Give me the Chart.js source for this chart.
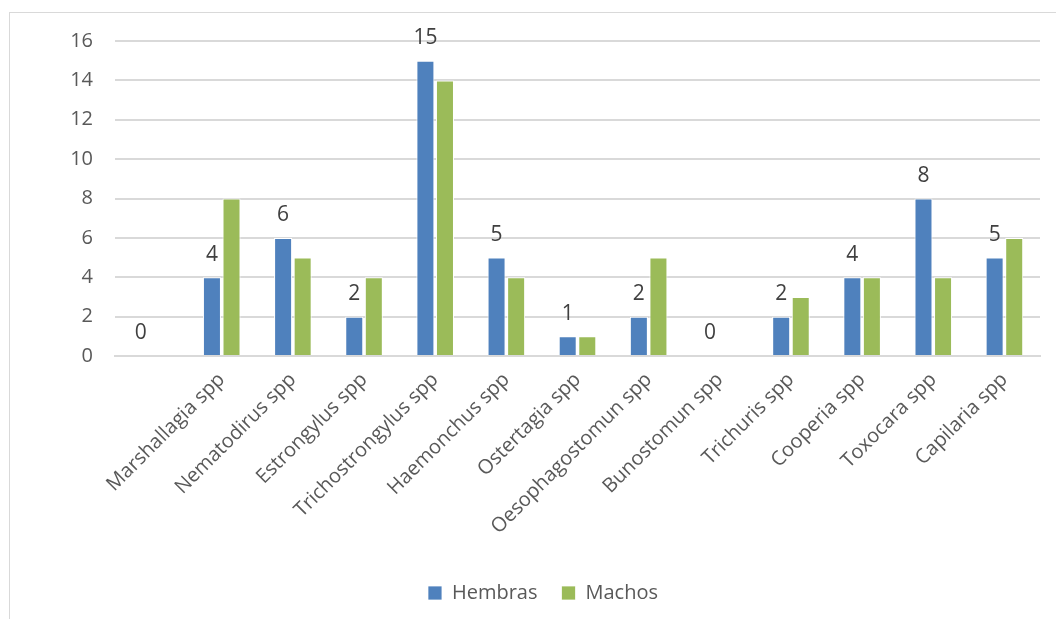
<!DOCTYPE html>
<html>
<head>
<meta charset="utf-8">
<script src="https://cdn.jsdelivr.net/npm/chart.js@4/dist/chart.umd.min.js"></script>
<style>
  html, body { margin: 0; padding: 0; background: #fff; }
  #wrap { position: relative; width: 1056px; height: 619px; }
  #frame {
    position: absolute; left: 9px; top: 12px; width: 1060px; height: 640px;
    border-left: 1px solid #d9d9d9; border-top: 1px solid #d9d9d9;
  }
  canvas { position: absolute; left: 0; top: 0; }
</style>
</head>
<body>
<div id="wrap">
  <div id="frame"></div>
  <canvas id="parasitosChart" width="1056" height="619"></canvas>
</div>
<script>
// Categories (first slot has no name)
const especies = ['', 'Marshallagia spp', 'Nematodirus spp', 'Estrongylus spp', 'Trichostrongylus spp',
  'Haemonchus spp', 'Ostertagia spp', 'Oesophagostomun spp', 'Bunostomun spp', 'Trichuris spp',
  'Cooperia spp', 'Toxocara spp', 'Capilaria spp'];
const hembras = [0, 4, 6, 2, 15, 5, 1, 2, 0, 2, 4, 8, 5];
const machos  = [0, 8, 5, 4, 14, 4, 1, 5, 0, 3, 4, 4, 6];
const yTicks = [0, 2, 4, 6, 8, 10, 12, 14, 16];

Chart.defaults.font.family = "'Open Sans', sans-serif";
Chart.defaults.color = '#595959';

// Value labels above the Hembras bars only
const etiquetas = {
  id: 'etiquetas',
  afterDatasetsDraw(chart) {
    const ctx = chart.ctx;
    const meta = chart.getDatasetMeta(0);
    ctx.save();
    ctx.font = "21px 'Open Sans', sans-serif";
    ctx.fillStyle = '#404040';
    ctx.textAlign = 'center';
    ctx.textBaseline = 'bottom';
    meta.data.forEach((bar, i) => {
      ctx.fillText(String(hembras[i]), bar.x, bar.y - 12);
    });
    ctx.restore();
  }
};

const ctx = document.getElementById('parasitosChart').getContext('2d');

new Chart(ctx, {
  type: 'bar',
  data: {
    labels: especies,
    datasets: [{
      label: 'Hembras',
      data: hembras,
      backgroundColor: '#4f81bd',
      borderColor: '#ffffff',
      borderWidth: { top: 1, left: 1, right: 1, bottom: 0 },
      barPercentage: 0.92,
      categoryPercentage: 0.55
    }, {
      label: 'Machos',
      data: machos,
      backgroundColor: '#9bbb59',
      borderColor: '#ffffff',
      borderWidth: { top: 1, left: 1, right: 1, bottom: 0 },
      barPercentage: 0.92,
      categoryPercentage: 0.55
    }]
  },
  options: {
    responsive: false,
    animation: false,
    layout: {
      padding: { top: 41, right: 16, left: 46, bottom: 6 }
    },
    plugins: {
      legend: {
        position: 'bottom',
        labels: {
          boxWidth: 14,
          boxHeight: 14,
          padding: 24,
          font: { size: 20 },
          color: '#595959'
        }
      },
      tooltip: { enabled: false }
    },
    scales: {
      x: {
        grid: { display: false, drawTicks: false },
        border: { display: true, color: '#d9d9d9', width: 2 },
        ticks: {
          maxRotation: 45,
          minRotation: 45,
          padding: 12,
          font: { size: 20 },
          color: '#595959'
        },
        afterFit(scale) { scale.height = 203; }
      },
      y: {
        min: 0,
        max: 16,
        afterBuildTicks(scale) { scale.ticks = yTicks.map(v => ({ value: v })); },
        grid: { color: '#d9d9d9', lineWidth: 2, drawTicks: false },
        border: { display: false },
        ticks: {
          padding: 22,
          font: { size: 20 },
          color: '#595959'
        },
        afterFit(scale) { scale.width = 69; }
      }
    }
  },
  plugins: [etiquetas]
});
</script>
</body>
</html>
